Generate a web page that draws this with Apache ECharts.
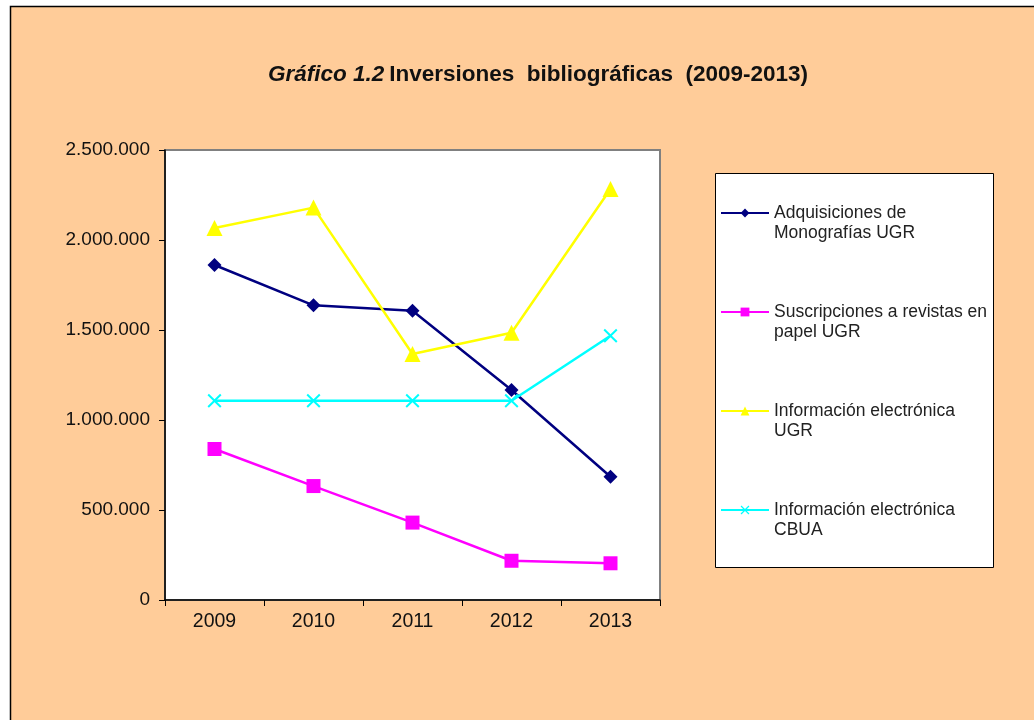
<!DOCTYPE html>
<html>
<head>
<meta charset="utf-8">
<script src="https://cdn.jsdelivr.net/npm/echarts@6/dist/echarts.min.js"></script>
<style>
  html, body { margin: 0; padding: 0; background: #fff; }
  #chart { width: 1034px; height: 720px; }
</style>
</head>
<body>
<div id="chart"></div>
<script>
  // años
  var years = ['2009', '2010', '2011', '2012', '2013']
  // importes (euros)
  var adquisiciones = [1861000, 1637000, 1607000, 1167000, 685000]
  var suscripciones = [839000, 633000, 430000, 218000, 204000]
  var electronicaUGR = [2067000, 2180000, 1367000, 1485000, 2283000]
  var electronicaCBUA = [1107000, 1107000, 1107000, 1107000, 1468000]

  var seriesNames = [
    'Adquisiciones de\nMonografías UGR',
    'Suscripciones a revistas en\npapel UGR',
    'Información electrónica\nUGR',
    'Información electrónica\nCBUA'
  ]

  var crossPath = 'path://M1,0L5,4L9,0L10,1L6,5L10,9L9,10L5,6L1,10L0,9L4,5L0,1Z'

  function fmtNum(v) {
    return String(v).replace(/\B(?=(\d{3})+(?!\d))/g, '.')
  }

  var chart = echarts.init(document.getElementById('chart'))
  var font = '"Liberation Sans", Arial, sans-serif'

  var option = {
    backgroundColor: '#fff',
    animation: false,
    textStyle: { fontFamily: font },
    graphic: [
      {
        type: 'rect',
        z: -10,
        shape: { x: 10.5, y: 6.5, width: 1100, height: 800 },
        style: { fill: '#FFCC99', stroke: '#000', lineWidth: 1.5 }
      },
      {
        type: 'rect',
        z: 1,
        shape: { x: 715.5, y: 173.5, width: 278, height: 394 },
        style: { fill: '#fff', stroke: '#000', lineWidth: 1 }
      }
    ],
    title: {
      left: 533,
      top: 58,
      textAlign: 'center',
      text: '{i|Gráfico 1.2} {b|Inversiones  bibliográficas  (2009-2013)}',
      textStyle: {
        rich: {
          i: { fontSize: 22.5, fontWeight: 'bold', fontStyle: 'italic', color: '#111', fontFamily: font },
          b: { fontSize: 22.5, fontWeight: 'bold', color: '#111', fontFamily: font }
        }
      }
    },
    legend: {
      orient: 'vertical',
      left: 720,
      top: 183,
      padding: 0,
      itemGap: 39,
      itemWidth: 48,
      itemHeight: 11,
      itemStyle: { borderWidth: 0 },
      formatter: function (name) { return '\u00a0\n' + name },
      textStyle: { fontSize: 17.5, lineHeight: 20, color: '#222', fontFamily: font },
      data: seriesNames
    },
    grid: {
      left: 165,
      right: 374,
      top: 150,
      bottom: 120,
      show: true,
      backgroundColor: '#fff',
      borderColor: '#808080',
      borderWidth: 2
    },
    xAxis: {
      type: 'category',
      data: years,
      boundaryGap: true,
      axisLine: { lineStyle: { color: '#000', width: 1.5 } },
      axisTick: { show: true, length: 6, lineStyle: { color: '#000' } },
      axisLabel: { fontSize: 19.5, color: '#111', margin: 12 }
    },
    yAxis: {
      type: 'value',
      min: 0,
      max: 2500000,
      interval: 500000,
      axisLine: { show: true, lineStyle: { color: '#000', width: 1.5 } },
      axisTick: { show: true, length: 6, lineStyle: { color: '#000' } },
      splitLine: { show: false },
      axisLabel: { fontSize: 19, color: '#111', margin: 15, formatter: fmtNum }
    },
    series: [
      {
        name: seriesNames[0],
        type: 'line',
        data: adquisiciones,
        symbol: 'diamond',
        symbolSize: 14,
        lineStyle: { color: '#000080', width: 2.5 },
        itemStyle: { color: '#000080' }
      },
      {
        name: seriesNames[1],
        type: 'line',
        data: suscripciones,
        symbol: 'rect',
        symbolSize: 14,
        lineStyle: { color: '#FF00FF', width: 2.5 },
        itemStyle: { color: '#FF00FF' }
      },
      {
        name: seriesNames[2],
        type: 'line',
        data: electronicaUGR,
        symbol: 'triangle',
        symbolSize: 16,
        lineStyle: { color: '#FFFF00', width: 2.5 },
        itemStyle: { color: '#FFFF00' }
      },
      {
        name: seriesNames[3],
        type: 'line',
        data: electronicaCBUA,
        symbol: crossPath,
        symbolSize: 14,
        lineStyle: { color: '#00FFFF', width: 2.5 },
        itemStyle: { color: '#00FFFF' }
      }
    ]
  }
  chart.setOption(option)
</script>
</body>
</html>
